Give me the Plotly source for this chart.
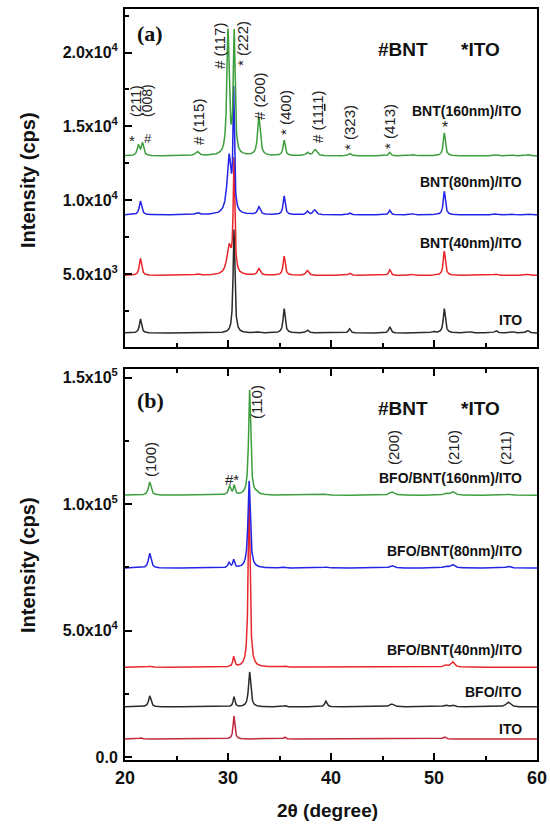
import numpy as np
import plotly.graph_objects as go

# ---------------- data ----------------
# Each pattern: baseline level and list of peaks (2theta, height above baseline, half width)
two_theta_range = [20, 60]

# Panel (a)
a_names = ["ITO", "BNT(40nm)/ITO", "BNT(80nm)/ITO", "BNT(160nm)/ITO"]
a_colors = ["#2a2a2a", "#e8262b", "#2424e6", "#3d9e3d"]
a_base = [1000, 4900, 9000, 13000]
a_pos = [
    [21.5, 30.58, 33.0, 35.45, 37.7, 41.8, 45.7, 49.9, 51.0, 53.5, 56.0, 57.6, 59.1],
    [21.5, 27.0, 30.1, 30.58, 33.0, 35.45, 37.7, 41.8, 45.7, 47.9, 51.0, 56.0, 59.1],
    [21.5, 27.0, 30.1, 30.55, 33.0, 35.45, 37.7, 38.4, 41.8, 45.7, 47.9, 51.0, 53.2, 56.0, 57.6, 59.1],
    [21.3, 21.7, 27.0, 30.0, 30.6, 33.0, 35.45, 37.7, 38.45, 41.8, 45.7, 47.9, 51.0, 53.2, 56.0, 57.6, 59.1],
]
a_height = [
    [950, 7000, 60, 1650, 200, 280, 420, 90, 1650, 80, 160, 80, 170],
    [1150, 90, 1900, 7600, 440, 1300, 330, 160, 380, 70, 1650, 90, 80],
    [930, 150, 3900, 8000, 530, 1270, 250, 330, 130, 320, 70, 1600, 60, 70, 50, 80],
    [700, 850, 280, 8400, 8200, 2600, 1050, 220, 420, 170, 230, 90, 1550, 60, 70, 60, 90],
]
a_width = [
    [0.12, 0.10, 0.2, 0.12, 0.15, 0.12, 0.12, 0.2, 0.12, 0.2, 0.15, 0.2, 0.15],
    [0.13, 0.2, 0.25, 0.09, 0.15, 0.12, 0.15, 0.15, 0.12, 0.2, 0.12, 0.2, 0.2],
    [0.14, 0.2, 0.22, 0.08, 0.15, 0.12, 0.12, 0.18, 0.15, 0.12, 0.2, 0.12, 0.2, 0.2, 0.2, 0.2],
    [0.13, 0.13, 0.2, 0.13, 0.10, 0.15, 0.12, 0.15, 0.2, 0.15, 0.12, 0.2, 0.12, 0.2, 0.2, 0.2, 0.2],
]
a_yticks = [5000, 10000, 15000, 20000]
a_yticktext = ["5.0x10<sup>3</sup>", "1.0x10<sup>4</sup>", "1.5x10<sup>4</sup>", "2.0x10<sup>4</sup>"]
a_yminor = [2500, 7500, 12500, 17500, 22500]
a_yrange = [50, 22950]

# Panel (b)
b_names = ["ITO", "BFO/ITO", "BFO/BNT(40nm)/ITO", "BFO/BNT(80nm)/ITO", "BFO/BNT(160nm)/ITO"]
b_colors = ["#c0283c", "#2a2a2a", "#e8262b", "#2424e6", "#3d9e3d"]
b_base = [7100, 19800, 35500, 74700, 103500]
b_pos = [
    [21.5, 30.58, 35.5, 45.7, 51.0],
    [22.4, 30.58, 32.1, 35.5, 39.5, 45.9, 51.1, 51.8, 57.2],
    [22.4, 30.55, 32.05, 35.5, 45.9, 51.1, 51.8, 57.2],
    [22.4, 30.1, 30.55, 32.05, 35.5, 38.5, 39.5, 45.9, 51.1, 51.8, 57.2],
    [22.4, 30.15, 30.6, 32.1, 32.8, 37.4, 38.7, 39.5, 45.9, 51.1, 51.8, 57.2],
]
b_height = [
    [500, 9100, 800, 150, 900],
    [4300, 3900, 13800, 500, 2300, 1100, 700, 800, 1900],
    [400, 4000, 66000, 400, 300, 900, 2100, 300],
    [5800, 2000, 3100, 34500, 300, 300, 400, 1000, 700, 1400, 700],
    [5200, 3500, 3600, 41500, 800, 200, 300, 400, 1300, 700, 1400, 400],
]
b_width = [
    [0.12, 0.10, 0.12, 0.15, 0.15],
    [0.14, 0.10, 0.13, 0.15, 0.13, 0.25, 0.2, 0.2, 0.25],
    [0.15, 0.10, 0.11, 0.15, 0.25, 0.2, 0.2, 0.25],
    [0.15, 0.12, 0.10, 0.13, 0.15, 0.2, 0.2, 0.25, 0.2, 0.25, 0.25],
    [0.15, 0.13, 0.10, 0.12, 0.15, 0.2, 0.2, 0.2, 0.25, 0.2, 0.25, 0.25],
]
b_yticks = [0, 50000, 100000, 150000]
b_yticktext = ["0.0", "5.0x10<sup>4</sup>", "1.0x10<sup>5</sup>", "1.5x10<sup>5</sup>"]
b_yminor = [25000, 75000, 125000]
b_yrange = [-1200, 153400]

x_ticks = [20, 30, 40, 50, 60]
x_ticktext = ["20", "30", "40", "50", "60"]
x_minor = [25, 35, 45, 55]

# ---------------- build profiles ----------------
tt = np.arange(19.9, 60.1, 0.01)


def profile(base, pos, hts, wds):
    y = np.full_like(tt, float(base))
    for c, h, w in zip(pos, hts, wds):
        y += h * w * w / ((tt - c) ** 2 + w * w)
    return y


W, H = 550, 824


def px(x):
    return x / W


def py(y):
    return 1 - y / H


fig = go.Figure()

for name, col, b, p, h, w in zip(a_names, a_colors, a_base, a_pos, a_height, a_width):
    fig.add_trace(go.Scatter(x=tt, y=profile(b, p, h, w), mode="lines", name=name,
                             line=dict(color=col, width=1.5), xaxis="x", yaxis="y",
                             showlegend=False, hoverinfo="skip"))
for name, col, b, p, h, w in zip(b_names, b_colors, b_base, b_pos, b_height, b_width):
    fig.add_trace(go.Scatter(x=tt, y=profile(b, p, h, w), mode="lines", name=name,
                             line=dict(color=col, width=1.5), xaxis="x2", yaxis="y2",
                             showlegend=False, hoverinfo="skip"))

xdom = [px(125), px(537)]
axis_common = dict(showline=True, linecolor="black", linewidth=2, ticks="inside",
                   tickcolor="black", tickwidth=2, ticklen=7, showgrid=False, zeroline=False,
                   automargin=False)
minor_common = dict(ticks="inside", ticklen=4, tickcolor="black", tickwidth=2)
tickfont = dict(family="Liberation Sans, Arial", size=16, color="#111")


def btext(lst):
    return ["<b>%s</b>" % t for t in lst]


fig.update_layout(
    width=W, height=H, margin=dict(l=0, r=0, t=0, b=0, autoexpand=False),
    plot_bgcolor="white", paper_bgcolor="white",
    xaxis=dict(domain=xdom, anchor="y", range=two_theta_range, tickvals=x_ticks,
               showticklabels=False, mirror=True,
               minor=dict(tickvals=x_minor, **minor_common), **axis_common),
    yaxis=dict(domain=[py(347), py(9)], anchor="x", range=a_yrange, tickvals=a_yticks,
               ticktext=btext(a_yticktext), tickfont=tickfont, mirror=True, ticklabelstandoff=2,
               minor=dict(tickvals=a_yminor, **minor_common), **axis_common),
    xaxis2=dict(domain=xdom, anchor="y2", range=two_theta_range, tickvals=x_ticks,
                ticktext=btext(x_ticktext), tickfont=dict(tickfont, size=18), mirror="ticks",
                minor=dict(tickvals=x_minor, **minor_common), **axis_common),
    yaxis2=dict(domain=[py(760), py(369)], anchor="x2", range=b_yrange, tickvals=b_yticks,
                ticktext=btext(b_yticktext), tickfont=tickfont, mirror=True, ticklabelstandoff=2,
                minor=dict(tickvals=b_yminor, **minor_common), **axis_common),
)

ann = []
bold = "Liberation Sans, Arial"


def add(text, x, y, size=13, angle=0, family=bold, color="#111", xanchor="center"):
    ann.append(dict(text=text, x=px(x), y=py(y), xref="paper", yref="paper",
                    showarrow=False, textangle=angle, xanchor=xanchor, yanchor="middle",
                    font=dict(family=family, size=size, color=color)))


# axis titles
add("<b>Intensity (cps)</b>", 28, 180, size=20, angle=-90)
add("<b>Intensity (cps)</b>", 28, 565, size=20, angle=-90)
add("<b>2θ (degree)</b>", 327, 810, size=19)

# panel labels
add("<b>(a)</b>", 150, 34, size=22, family="Liberation Serif, Times New Roman")
add("<b>(b)</b>", 150, 401, size=22, family="Liberation Serif, Times New Roman")
add("<b>#BNT</b>", 403, 50, size=19)
add("<b>*ITO</b>", 480, 50, size=19)
add("<b>#BNT</b>", 403, 409, size=19)
add("<b>*ITO</b>", 480, 409, size=19)

# sample labels (panel a)
add("<b>BNT(160nm)/ITO</b>", 524, 111, size=14, xanchor="right")
add("<b>BNT(80nm)/ITO</b>", 524, 182, size=14, xanchor="right")
add("<b>BNT(40nm)/ITO</b>", 524, 243, size=14, xanchor="right")
add("<b>ITO</b>", 524, 320, size=14, xanchor="right")
# sample labels (panel b)
add("<b>BFO/BNT(160nm)/ITO</b>", 524, 478, size=14, xanchor="right")
add("<b>BFO/BNT(80nm)/ITO</b>", 524, 551, size=14, xanchor="right")
add("<b>BFO/BNT(40nm)/ITO</b>", 524, 650, size=14, xanchor="right")
add("<b>BFO/ITO</b>", 524, 692, size=14, xanchor="right")
add("<b>ITO</b>", 524, 729, size=14, xanchor="right")

# peak indices panel (a)
pk = "Liberation Sans, Arial"
pc = "#222"
add("(211)", 136, 101, size=14, angle=-90, family=pk, color=pc)
add("(008)", 147, 101, size=14, angle=-90, family=pk, color=pc)
add("*", 132, 140, size=15, family=pk, color=pc)
add("#", 148, 138, size=13, family=pk, color=pc)
add("# (115)", 198, 122, size=15, angle=-90, family=pk, color=pc)
add("# (117)", 220, 46, size=15, angle=-90, family=pk, color=pc)
add("* (222)", 243, 44, size=15, angle=-90, family=pk, color=pc)
add("# (200)", 260, 96, size=15, angle=-90, family=pk, color=pc)
add("* (400)", 285, 113, size=15, angle=-90, family=pk, color=pc)
add("# (11<u>1</u>1)", 317, 117, size=15, angle=-90, family=pk, color=pc)
add("* (323)", 350, 128, size=15, angle=-90, family=pk, color=pc)
add("* (413)", 390, 127, size=15, angle=-90, family=pk, color=pc)
add("*", 445, 128, size=16, family=pk, color=pc)

# peak indices panel (b)
add("(100)", 150, 460, size=15, angle=-90, family=pk, color=pc)
add("#*", 232, 479, size=15, family=pk, color=pc)
add("(110)", 256, 402, size=15, angle=-90, family=pk, color=pc)
add("(200)", 393, 448, size=15, angle=-90, family=pk, color=pc)
add("(210)", 453, 448, size=15, angle=-90, family=pk, color=pc)
add("(211)", 505, 448, size=15, angle=-90, family=pk, color=pc)

fig.update_layout(annotations=ann)
fig.write_html("out.html", config={"displayModeBar": False},
               post_script="document.body.style.margin='0px';"
                           "document.body.style.overflow='hidden';")
